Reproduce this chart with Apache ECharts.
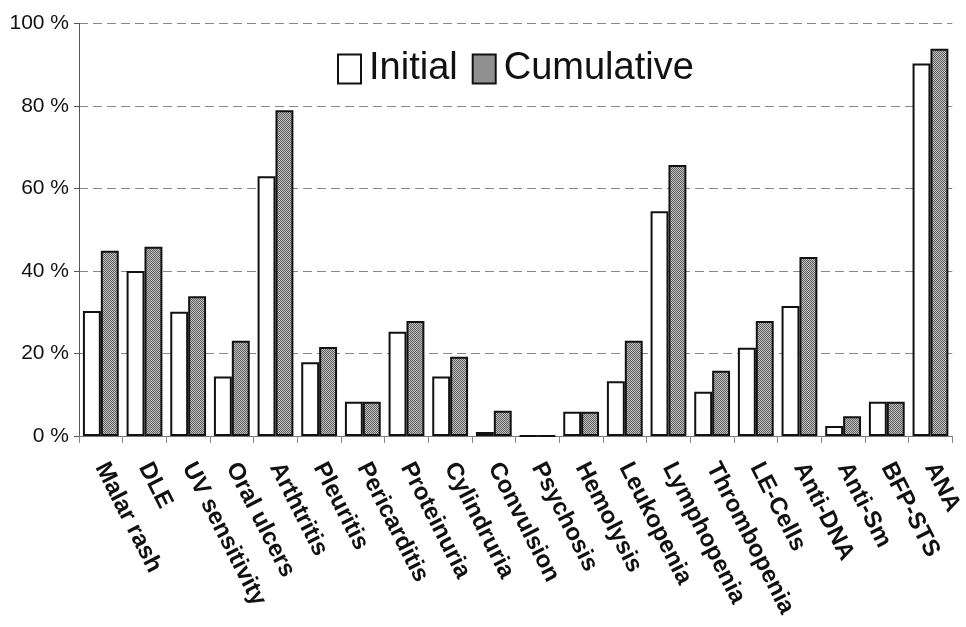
<!DOCTYPE html>
<html><head><meta charset="utf-8">
<script src="https://cdn.jsdelivr.net/npm/echarts@6/dist/echarts.min.js"></script>
<style>html,body{margin:0;padding:0;background:#fff}#c{width:966px;height:627px}</style>
</head><body><div id="c"></div>
<script>
const categories = ["Malar rash","DLE","UV sensitivity","Oral ulcers","Arthtritis","Pleuritis","Pericarditis","Proteinuria","Cylindruria","Convulsion","Psychosis","Hemolysis","Leukopenia","Lymphopenia","Thrombopenia","LE-Cells","Anti-DNA","Anti-Sm","BFP-STS","ANA"];
const initialValues = [30.3,40.0,30.1,14.4,63.0,17.9,8.3,25.3,14.4,1.0,0,5.9,13.3,54.5,10.7,21.4,31.5,2.4,8.3,90.3];
const cumulativeValues = [44.9,45.9,33.9,23.1,79.0,21.6,8.3,27.9,19.2,6.1,0,5.9,23.1,65.7,15.8,27.9,43.4,4.8,8.3,93.9];
const yTicks = [0,20,40,60,80,100];

const pc = document.createElement('canvas');
pc.width = 2; pc.height = 2;
const g = pc.getContext('2d');
g.fillStyle = '#c0c0c0'; g.fillRect(0,0,2,2);
g.fillStyle = '#606060'; g.fillRect(0,0,1,1); g.fillRect(1,1,1,1);
const pattern = {image: pc, repeat: 'repeat'};

const chart = echarts.init(document.getElementById('c'));
chart.setOption({
  animation: false,
  backgroundColor: '#fff',
  grid: {left: 79, right: 9, top: 23.5, bottom: 191, containLabel: false},
  legend: {
    top: 45, left: 332, itemWidth: 23, itemHeight: 29, itemGap: 14,
    textStyle: {fontFamily: 'Liberation Sans', fontSize: 38, color: '#111', padding: [0,0,0,3]},
    data: [
      {name: 'Initial', icon: 'rect', itemStyle: {color: '#fff', borderColor: '#111', borderWidth: 2}},
      {name: 'Cumulative', icon: 'rect', itemStyle: {color: pattern, borderColor: '#111', borderWidth: 2}}
    ]
  },
  xAxis: {
    type: 'category', data: categories, boundaryGap: true,
    axisLine: {lineStyle: {color: '#777', width: 1}},
    axisTick: {show: true, length: 7, lineStyle: {color: '#888'}},
    axisLabel: {rotate: -63, margin: 28, fontFamily: 'Liberation Sans', fontWeight: 'bold', fontSize: 24, color: '#111', interval: 0}
  },
  yAxis: {
    type: 'value', min: yTicks[0], max: yTicks[yTicks.length-1], interval: 20,
    axisLine: {show: true, lineStyle: {color: '#555', width: 1}},
    axisTick: {show: true, length: 5, lineStyle: {color: '#555'}},
    axisLabel: {formatter: '{value} %', fontFamily: 'Liberation Sans', fontSize: 21, color: '#111', margin: 10},
    splitLine: {show: true, lineStyle: {type: [9,5], color: '#888', width: 1}}
  },
  series: [
    {name: 'Initial', type: 'bar', data: initialValues, barGap: '0%', barCategoryGap: '18%',
     itemStyle: {color: '#fff', borderColor: '#111', borderWidth: 2}},
    {name: 'Cumulative', type: 'bar', data: cumulativeValues, barGap: '0%', barCategoryGap: '18%',
     itemStyle: {color: pattern, borderColor: '#111', borderWidth: 2}}
  ]
});
</script></body></html>
